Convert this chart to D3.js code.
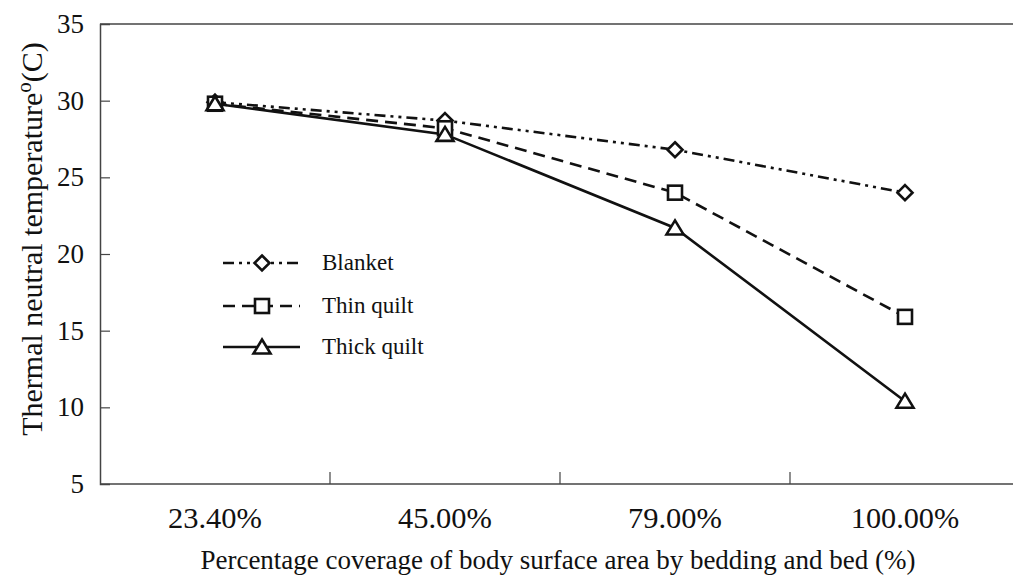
<!DOCTYPE html>
<html>
<head>
<meta charset="utf-8">
<script src="https://cdn.jsdelivr.net/npm/d3@7"></script>
<style>
  body { margin: 0; background: #fff; }
  svg text { font-family: "Liberation Serif", "Times New Roman", serif; fill: #111; }
</style>
</head>
<body>
<div id="chart"></div>
<script>
var categories = ["23.40%", "45.00%", "79.00%", "100.00%"];
var blanket = [29.9, 28.7, 26.8, 24.0];
var thinQuilt = [29.8, 28.2, 24.0, 15.9];
var thickQuilt = [29.8, 27.8, 21.7, 10.4];
var yTicks = [5, 10, 15, 20, 25, 30, 35];

var width = 1013, height = 585;
var plotLeft = 100, plotRight = 1020, plotTop = 24, plotBottom = 484;

var svg = d3.select('#chart').append('svg')
  .attr('width', width)
  .attr('height', height);

var x = d3.scaleBand().domain(categories).range([plotLeft, plotRight]);
var y = d3.scaleLinear().domain([5, 35]).range([plotBottom, plotTop]);

var series = [
  { name: "Blanket", values: blanket, dash: "11,5,3,5,3,5", shape: "diamond" },
  { name: "Thin quilt", values: thinQuilt, dash: "12,7", shape: "square" },
  { name: "Thick quilt", values: thickQuilt, dash: null, shape: "triangle" }
];

var axisColor = '#444';

// frame
svg.append('line').attr('x1', plotLeft).attr('x2', width).attr('y1', plotTop).attr('y2', plotTop)
  .attr('stroke', axisColor).attr('stroke-width', 1.5);

// y axis (ticks pointing inward)
var yAxis = svg.append('g')
  .attr('transform', 'translate(' + plotLeft + ',0)')
  .call(d3.axisRight(y).tickValues(yTicks).tickSize(10).tickFormat(''));
yAxis.select('.domain').attr('stroke', axisColor).attr('stroke-width', 1.5);
yAxis.selectAll('.tick line').attr('stroke', axisColor).attr('stroke-width', 1.2);
yAxis.selectAll('.tick').filter(function (d) { return d === 5 || d === 35; }).select('line').remove();

svg.selectAll('.ylab').data(yTicks).enter().append('text')
  .attr('class', 'ylab')
  .attr('x', 84)
  .attr('y', function (d) { return y(d) + 9; })
  .attr('text-anchor', 'end')
  .style('font-size', '27px')
  .text(function (d) { return d; });

// x axis: ticks at category boundaries, pointing up
svg.append('line').attr('x1', plotLeft).attr('x2', width).attr('y1', plotBottom).attr('y2', plotBottom)
  .attr('stroke', axisColor).attr('stroke-width', 1.5);
svg.selectAll('.xtick').data(categories.slice(1)).enter().append('line')
  .attr('class', 'xtick')
  .attr('x1', function (d) { return x(d); })
  .attr('x2', function (d) { return x(d); })
  .attr('y1', plotBottom).attr('y2', plotBottom - 12)
  .attr('stroke', axisColor).attr('stroke-width', 1.2);

svg.selectAll('.xlab').data(categories).enter().append('text')
  .attr('class', 'xlab')
  .attr('x', function (d) { return x(d) + x.bandwidth() / 2; })
  .attr('y', 528)
  .attr('text-anchor', 'middle')
  .style('font-size', '29px')
  .attr('textLength', function (d) { return d.length * 14.5 + 7; })
  .attr('lengthAdjust', 'spacingAndGlyphs')
  .text(function (d) { return d; });

// axis titles
svg.append('text')
  .attr('x', 558).attr('y', 569)
  .attr('text-anchor', 'middle')
  .style('font-size', '27px')
  .text('Percentage coverage of body surface area by bedding and bed (%)');

var ylabel = svg.append('text')
  .attr('transform', 'translate(42,' + 239 + ') rotate(-90)')
  .attr('text-anchor', 'middle')
  .style('font-size', '30px');
ylabel.append('tspan').text('Thermal neutral temperature');
ylabel.append('tspan').attr('dy', -11).style('font-size', '21px').text('o');
ylabel.append('tspan').attr('dy', 11).text('(C)');

// markers
function drawMarker(g, shape, cx, cy) {
  if (shape === 'diamond') {
    g.append('path')
      .attr('d', 'M' + cx + ',' + (cy - 7.5) + 'L' + (cx + 7.5) + ',' + cy + 'L' + cx + ',' + (cy + 7.5) + 'L' + (cx - 7.5) + ',' + cy + 'Z')
      .attr('fill', '#fff').attr('stroke', '#111').attr('stroke-width', 2.6);
  } else if (shape === 'square') {
    g.append('rect')
      .attr('x', cx - 7).attr('y', cy - 7).attr('width', 14).attr('height', 14)
      .attr('fill', '#fff').attr('stroke', '#111').attr('stroke-width', 2.6);
  } else {
    g.append('path')
      .attr('d', 'M' + cx + ',' + (cy - 7.5) + 'L' + (cx + 8.5) + ',' + (cy + 6.5) + 'L' + (cx - 8.5) + ',' + (cy + 6.5) + 'Z')
      .attr('fill', '#fff').attr('stroke', '#111').attr('stroke-width', 2.6);
  }
}

var line = d3.line()
  .x(function (d, i) { return x(categories[i]) + x.bandwidth() / 2; })
  .y(function (d) { return y(d); });

series.forEach(function (s) {
  svg.append('path')
    .datum(s.values)
    .attr('d', line)
    .attr('fill', 'none')
    .attr('stroke', '#111')
    .attr('stroke-width', 2.6)
    .attr('stroke-dasharray', s.dash);
});
series.forEach(function (s) {
  var g = svg.append('g');
  s.values.forEach(function (v, i) {
    drawMarker(g, s.shape, x(categories[i]) + x.bandwidth() / 2, y(v));
  });
});

// legend
var legendY = [263, 306, 347];
series.forEach(function (s, i) {
  var g = svg.append('g');
  g.append('line')
    .attr('x1', 223).attr('x2', 300)
    .attr('y1', legendY[i]).attr('y2', legendY[i])
    .attr('stroke', '#111').attr('stroke-width', 2.6)
    .attr('stroke-dasharray', s.dash);
  drawMarker(g, s.shape, 262, legendY[i]);
  g.append('text')
    .attr('x', 322).attr('y', legendY[i] + 7)
    .style('font-size', '23px')
    .text(s.name);
});
</script>
</body>
</html>
